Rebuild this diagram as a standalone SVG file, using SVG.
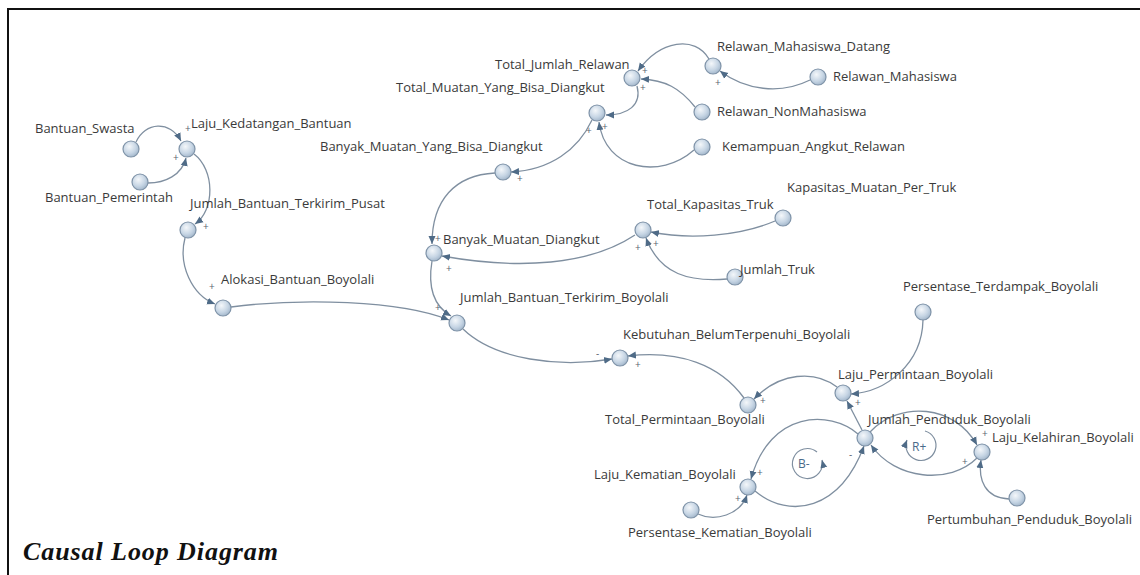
<svg xmlns="http://www.w3.org/2000/svg" width="1140" height="575" viewBox="0 0 1140 575">
<defs>
<radialGradient id="g" cx="0.4" cy="0.35" r="0.7">
<stop offset="0" stop-color="#f4f7fa"/>
<stop offset="0.6" stop-color="#c6d5e4"/>
<stop offset="1" stop-color="#9fb3c8"/>
</radialGradient>
<marker id="a" markerWidth="9" markerHeight="8" refX="8" refY="4" orient="auto" markerUnits="userSpaceOnUse">
<path d="M0,0.5 L8,4 L0,7.5 Z" fill="#4f6b87"/>
</marker>
</defs>
<style>
.n circle{fill:url(#g);stroke:#7f93a8;stroke-width:1.2}
text{font-family:"Open Sans","Noto Sans",sans-serif;font-size:13px;fill:#3a3a3a}
.s{font-size:10px;fill:#5a6470}
.c path{fill:none;stroke:#7f8fa0;stroke-width:1.3;marker-end:url(#a)}
.lp path{fill:none;stroke:#7f8fa0;stroke-width:1.2;marker-end:url(#a)}
.lt{font-size:12px;fill:#4a6a8a}
.t{font-family:"Liberation Serif","DejaVu Serif",serif;font-weight:bold;font-style:italic;font-size:26px;fill:#111}
</style>
<rect x="8" y="9" width="1150" height="600" fill="#fff" stroke="#111" stroke-width="2"/>

<g class="c" id="connectors">
<path d="M136,142 C145,122 170,120 181,141"/>
<path d="M148,183 C165,183 182,175 186,158"/>
<path d="M194,154 C215,170 215,210 195,224"/>
<path d="M185,238 C178,265 192,295 215,304"/>
<path d="M231,307 C300,298 400,300 449,320"/>
<path d="M432,261 C428,285 432,305 451,316"/>
<path d="M635,235 C590,265 520,270 442,256"/>
<path d="M495,173 C455,175 432,200 432,244"/>
<path d="M592,120 C578,150 550,170 511,172"/>
<path d="M637,86 C642,105 628,115 606,115"/>
<path d="M694,150 C660,180 605,170 599,122"/>
<path d="M709,59 C695,35 660,40 638,71"/>
<path d="M695,107 C680,88 665,80 641,79"/>
<path d="M810,80 C780,95 745,90 720,71"/>
<path d="M775,221 C740,236 690,240 651,232"/>
<path d="M727,279 C690,282 660,275 646,238"/>
<path d="M463,329 C495,360 560,368 612,359"/>
<path d="M744,398 C720,365 680,350 628,356"/>
<path d="M837,387 C815,370 780,372 754,399"/>
<path d="M923,320 C922,365 885,392 851,394"/>
<path d="M862,430 L847,401"/>
<path d="M858,434 C830,410 770,410 751,479"/>
<path d="M755,491 C790,520 840,510 864,446"/>
<path d="M870,432 C900,400 955,405 977,445"/>
<path d="M977,458 C950,485 895,480 871,445"/>
<path d="M1009,499 C985,498 978,480 981,460"/>
<path d="M698,514 C715,522 740,515 747,495"/>
</g>

<g id="polarities">
<text class="s" x="185" y="132">+</text>
<text class="s" x="173" y="161">+</text>
<text class="s" x="203" y="230">+</text>
<text class="s" x="209" y="290">+</text>
<text class="s" x="435" y="311">+</text>
<text class="s" x="446" y="272">+</text>
<text class="s" x="517" y="182">+</text>
<text class="s" x="586" y="134">+</text>
<text class="s" x="602" y="130">+</text>
<text class="s" x="642" y="74">+</text>
<text class="s" x="640" y="91">+</text>
<text class="s" x="715" y="86">+</text>
<text class="s" x="653" y="247">+</text>
<text class="s" x="635" y="251">+</text>
<text class="s" x="596" y="357">-</text>
<text class="s" x="635" y="368">+</text>
<text class="s" x="760" y="404">+</text>
<text class="s" x="855" y="406">+</text>
<text class="s" x="757" y="476">+</text>
<text class="s" x="735" y="502">+</text>
<text class="s" x="849" y="458">-</text>
<text class="s" x="982" y="437">+</text>
<text class="s" x="962" y="465">+</text>
</g>

<g class="lp" id="loop-B">
<path d="M817,452 A15,15 0 1 0 822,460"/>
<text class="lt" x="798" y="468">B-</text>
</g>
<g class="lp" id="loop-R">
<path d="M925,431 A15,15 0 1 1 907,440"/>
<text class="lt" x="912" y="451">R+</text>
</g>

<g class="n" id="Bantuan_Swasta"><circle cx="131" cy="149" r="8"/><text x="35" y="133">Bantuan_Swasta</text></g>
<g class="n" id="Laju_Kedatangan_Bantuan"><circle cx="187" cy="149" r="8"/><text x="191" y="128">Laju_Kedatangan_Bantuan</text></g>
<g class="n" id="Bantuan_Pemerintah"><circle cx="140" cy="182" r="8"/><text x="45" y="202">Bantuan_Pemerintah</text></g>
<g class="n" id="Jumlah_Bantuan_Terkirim_Pusat"><circle cx="188" cy="230" r="8"/><text x="190" y="208">Jumlah_Bantuan_Terkirim_Pusat</text></g>
<g class="n" id="Alokasi_Bantuan_Boyolali"><circle cx="223" cy="308" r="8"/><text x="221" y="284">Alokasi_Bantuan_Boyolali</text></g>
<g class="n" id="Total_Jumlah_Relawan"><circle cx="632" cy="78" r="8"/><text x="495" y="69">Total_Jumlah_Relawan</text></g>
<g class="n" id="Total_Muatan_Yang_Bisa_Diangkut"><circle cx="597" cy="113" r="8"/><text x="396" y="92">Total_Muatan_Yang_Bisa_Diangkut</text></g>
<g class="n" id="Relawan_Mahasiswa_Datang"><circle cx="713" cy="66" r="8"/><text x="717" y="51">Relawan_Mahasiswa_Datang</text></g>
<g class="n" id="Relawan_Mahasiswa"><circle cx="818" cy="77" r="8"/><text x="833" y="81">Relawan_Mahasiswa</text></g>
<g class="n" id="Relawan_NonMahasiswa"><circle cx="702" cy="112" r="8"/><text x="717" y="116">Relawan_NonMahasiswa</text></g>
<g class="n" id="Kemampuan_Angkut_Relawan"><circle cx="702" cy="147" r="8"/><text x="722" y="151">Kemampuan_Angkut_Relawan</text></g>
<g class="n" id="Banyak_Muatan_Yang_Bisa_Diangkut"><circle cx="503" cy="172" r="8"/><text x="320" y="151">Banyak_Muatan_Yang_Bisa_Diangkut</text></g>
<g class="n" id="Banyak_Muatan_Diangkut"><circle cx="434" cy="253" r="8"/><text class="s" x="435" y="242">+</text><text x="443" y="244">Banyak_Muatan_Diangkut</text></g>
<g class="n" id="Total_Kapasitas_Truk"><circle cx="643" cy="230" r="8"/><text x="647" y="209">Total_Kapasitas_Truk</text></g>
<g class="n" id="Kapasitas_Muatan_Per_Truk"><circle cx="783" cy="218" r="8"/><text x="787" y="192">Kapasitas_Muatan_Per_Truk</text></g>
<g class="n" id="Jumlah_Truk"><circle cx="735" cy="277" r="8"/><text x="740" y="274">Jumlah_Truk</text></g>
<g class="n" id="Jumlah_Bantuan_Terkirim_Boyolali"><circle cx="457" cy="323" r="8"/><text x="460" y="302">Jumlah_Bantuan_Terkirim_Boyolali</text></g>
<g class="n" id="Kebutuhan_BelumTerpenuhi_Boyolali"><circle cx="620" cy="358" r="8"/><text x="623" y="339">Kebutuhan_BelumTerpenuhi_Boyolali</text></g>
<g class="n" id="Persentase_Terdampak_Boyolali"><circle cx="923" cy="312" r="8"/><text x="903" y="291">Persentase_Terdampak_Boyolali</text></g>
<g class="n" id="Laju_Permintaan_Boyolali"><circle cx="843" cy="393" r="8"/><text x="838" y="379">Laju_Permintaan_Boyolali</text></g>
<g class="n" id="Total_Permintaan_Boyolali"><circle cx="748" cy="405" r="8"/><text x="605" y="424">Total_Permintaan_Boyolali</text></g>
<g class="n" id="Jumlah_Penduduk_Boyolali"><circle cx="865" cy="438" r="8"/><text x="868" y="424">Jumlah_Penduduk_Boyolali</text></g>
<g class="n" id="Laju_Kelahiran_Boyolali"><circle cx="982" cy="452" r="8"/><text x="992" y="442">Laju_Kelahiran_Boyolali</text></g>
<g class="n" id="Laju_Kematian_Boyolali"><circle cx="748" cy="487" r="8"/><text x="594" y="479">Laju_Kematian_Boyolali</text></g>
<g class="n" id="Persentase_Kematian_Boyolali"><circle cx="691" cy="510" r="8"/><text x="628" y="537">Persentase_Kematian_Boyolali</text></g>
<g class="n" id="Pertumbuhan_Penduduk_Boyolali"><circle cx="1017" cy="498" r="8"/><text x="927" y="524">Pertumbuhan_Penduduk_Boyolali</text></g>

<text class="t" x="23" y="560" textLength="255">Causal Loop Diagram</text>
</svg>
